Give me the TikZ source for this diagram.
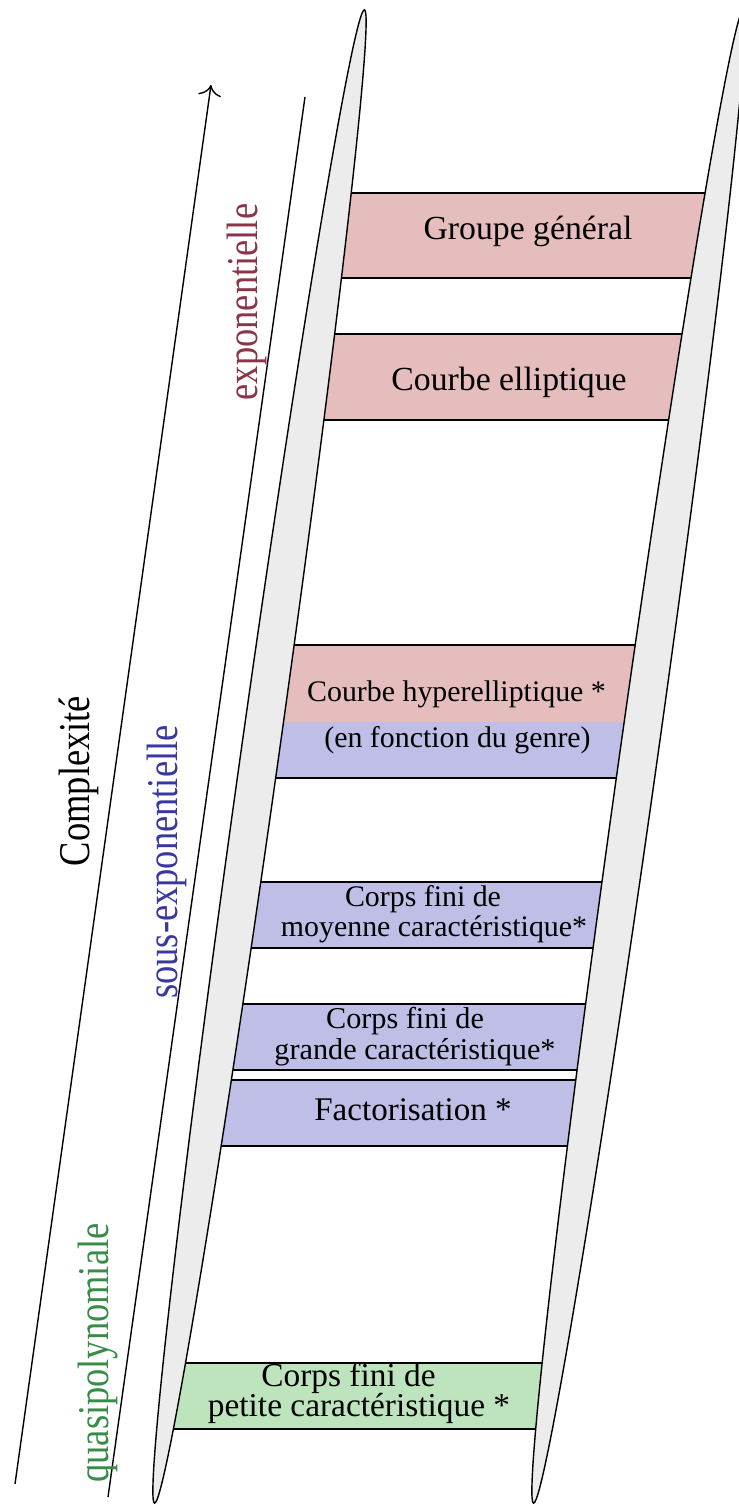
\documentclass[tikz,border=0pt]{standalone}
\usepackage{fontspec}
\setmainfont{Liberation Serif}
\newfontfamily\labelfont{Liberation Serif}[FakeStretch=0.83]
\usetikzlibrary{calc, arrows.meta}

\definecolor{railgray}{RGB}{236,236,236}
\definecolor{expfill}{RGB}{229,189,189}
\definecolor{subexpfill}{RGB}{190,190,230}
\definecolor{quasifill}{RGB}{189,228,189}
\definecolor{exptext}{RGB}{139,54,72}
\definecolor{subexptext}{RGB}{56,56,158}
\definecolor{quasitext}{RGB}{56,140,72}

\tikzset{
  rail/.style={fill=railgray, draw=black},
  boxtext/.style={font=\fontsize{#1}{12}\selectfont, anchor=base, inner sep=0pt},
  sidetext/.style={font=\labelfont\fontsize{12.5}{14}\selectfont, rotate=90, inner sep=0pt},
}

\begin{document}
\begin{tikzpicture}
\useasboundingbox (0, 0) rectangle (7.38, -15.04);
% complexity axis
\coordinate (A) at (0.15, -14.84);
\coordinate (B) at (2.11, -0.85);
\draw[-{To[scale=1.25]}] (A) -- (B);
\coordinate (C) at (1.08, -14.97);
\coordinate (D) at (3.05, -0.97);
\draw (C) -- (D);
% rungs
\draw[fill=expfill] (3.324, -1.93) rectangle (7.114, -2.78);
\draw[fill=expfill] (3.126, -3.34) rectangle (6.916, -4.20);
\fill[expfill] (2.658, -6.45) rectangle (6.448, -7.22);
\fill[subexpfill] (2.658, -7.22) rectangle (6.448, -7.78);
\draw (2.658, -6.45) rectangle (6.448, -7.78);
\draw[fill=subexpfill] (2.373, -8.82) rectangle (6.163, -9.48);
\draw[fill=subexpfill] (2.202, -10.04) rectangle (5.992, -10.70);
\draw[fill=subexpfill] (2.096, -10.80) rectangle (5.886, -11.46);
\draw[fill=quasifill] (1.700, -13.63) rectangle (5.490, -14.29);
% rails
\coordinate (L) at (2.595, -7.565);
\coordinate (R) at ($(L) + (3.79, 0)$);
\draw[rail, rotate around={82:(L)}] (L) ellipse (7.54 and 0.19);
\draw[rail, rotate around={82:(R)}] (R) ellipse (7.54 and 0.19);
% rung labels
\node[boxtext=9.6] (general) at (5.28, -2.39) {Groupe général};
\node[boxtext=9.6] (elliptic) at (5.09, -3.90) {Courbe elliptique};
\node[boxtext=8.5] (hyper) at (4.565, -7.01) {Courbe hyperelliptique *};
\node[boxtext=8.5] (genus) at (4.575, -7.47) {(en fonction du genre)};
\node[boxtext=8.5] (medium) at (4.23, -9.065) {Corps fini de};
\node[boxtext=8.5] (mediumb) at (4.34, -9.36) {moyenne caractéristique*};
\node[boxtext=8.6] (large) at (4.05, -10.285) {Corps fini de};
\node[boxtext=8.6] (largeb) at (4.15, -10.59) {grande caractéristique*};
\node[boxtext=9.4] (factor) at (4.13, -11.20) {Factorisation *};
\node[boxtext=9.5] (small) at (3.485, -13.86) {Corps fini de};
\node[boxtext=9.5] (smallb) at (3.59, -14.16) {petite caractéristique *};
% side labels
\node[sidetext, text=exptext] (expo) at (2.47, -3.02) {exponentielle};
\node[sidetext] (cplx) at (0.79, -7.81) {Complexité};
\node[sidetext, text=subexptext] (subexpo) at (1.67, -8.62) {sous-exponentielle};
\node[sidetext, text=quasitext] (quasi) at (0.98, -13.53) {quasipolynomiale};
\end{tikzpicture}
\end{document}
